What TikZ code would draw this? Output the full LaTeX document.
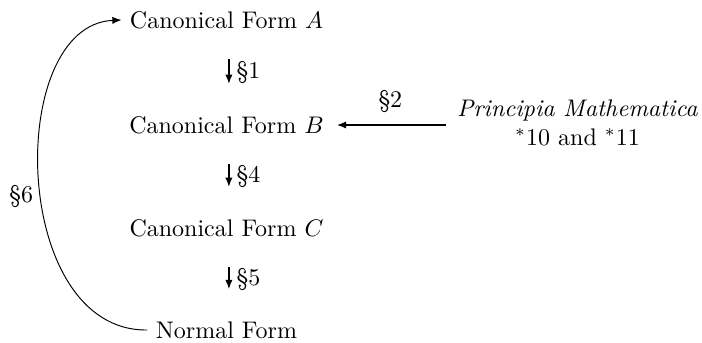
\documentclass[tikz,border=0pt]{standalone}
\usepackage{amsmath}
\usepackage{amssymb}
\usepackage{tikz}
\usetikzlibrary{arrows.meta,positioning,calc}

\begin{document}
\begin{tikzpicture}[
    x=0.41667pt, y=-0.41667pt,
    form/.style={align=center, font=\normalsize},
    arr/.style={-{Latex[length=3.8pt,width=3pt]}, line width=0.5pt},
    lbl/.style={font=\normalsize, inner sep=2pt}
]
    \useasboundingbox (0,0) rectangle (702,342);

    \node [form] (fa) at (226.5,20) {Canonical Form $A$};
    \node [form] (fb) at (226.5,125) {Canonical Form $B$};
    \node [form] (fc) at (226.5,228) {Canonical Form $C$};
    \node [form] (nf) at (226.5,330) {Normal Form};
    \node [form] (pm) at (577.5,123) {\textit{Principia Mathematica}\\$^*$10 and $^*$11};

    \draw [arr, shorten <=9pt, shorten >=10pt] ([xshift=1pt]fa.south) -- node [lbl, right=1pt] {\S1} ([xshift=1pt]fb.north);
    \draw [arr, shorten <=9pt, shorten >=10pt] ([xshift=1pt]fb.south) -- node [lbl, right=1pt] {\S4} ([xshift=1pt]fc.north);
    \draw [arr, shorten <=9pt, shorten >=10pt] ([xshift=1pt]fc.south) -- node [lbl, right=1pt] {\S5} ([xshift=1pt]nf.north);
    \draw [arr, shorten <=1pt, shorten >=2pt] (pm.west |- fb.east) -- node [lbl, above=3pt] {\S2} (fb.east);
    \draw [arr, line width=0.4pt] (nf.west) .. controls (10,332) and (5,25) .. node [lbl, left=1pt, pos=0.46] {\S6} (fa.west);
\end{tikzpicture}
\end{document}
